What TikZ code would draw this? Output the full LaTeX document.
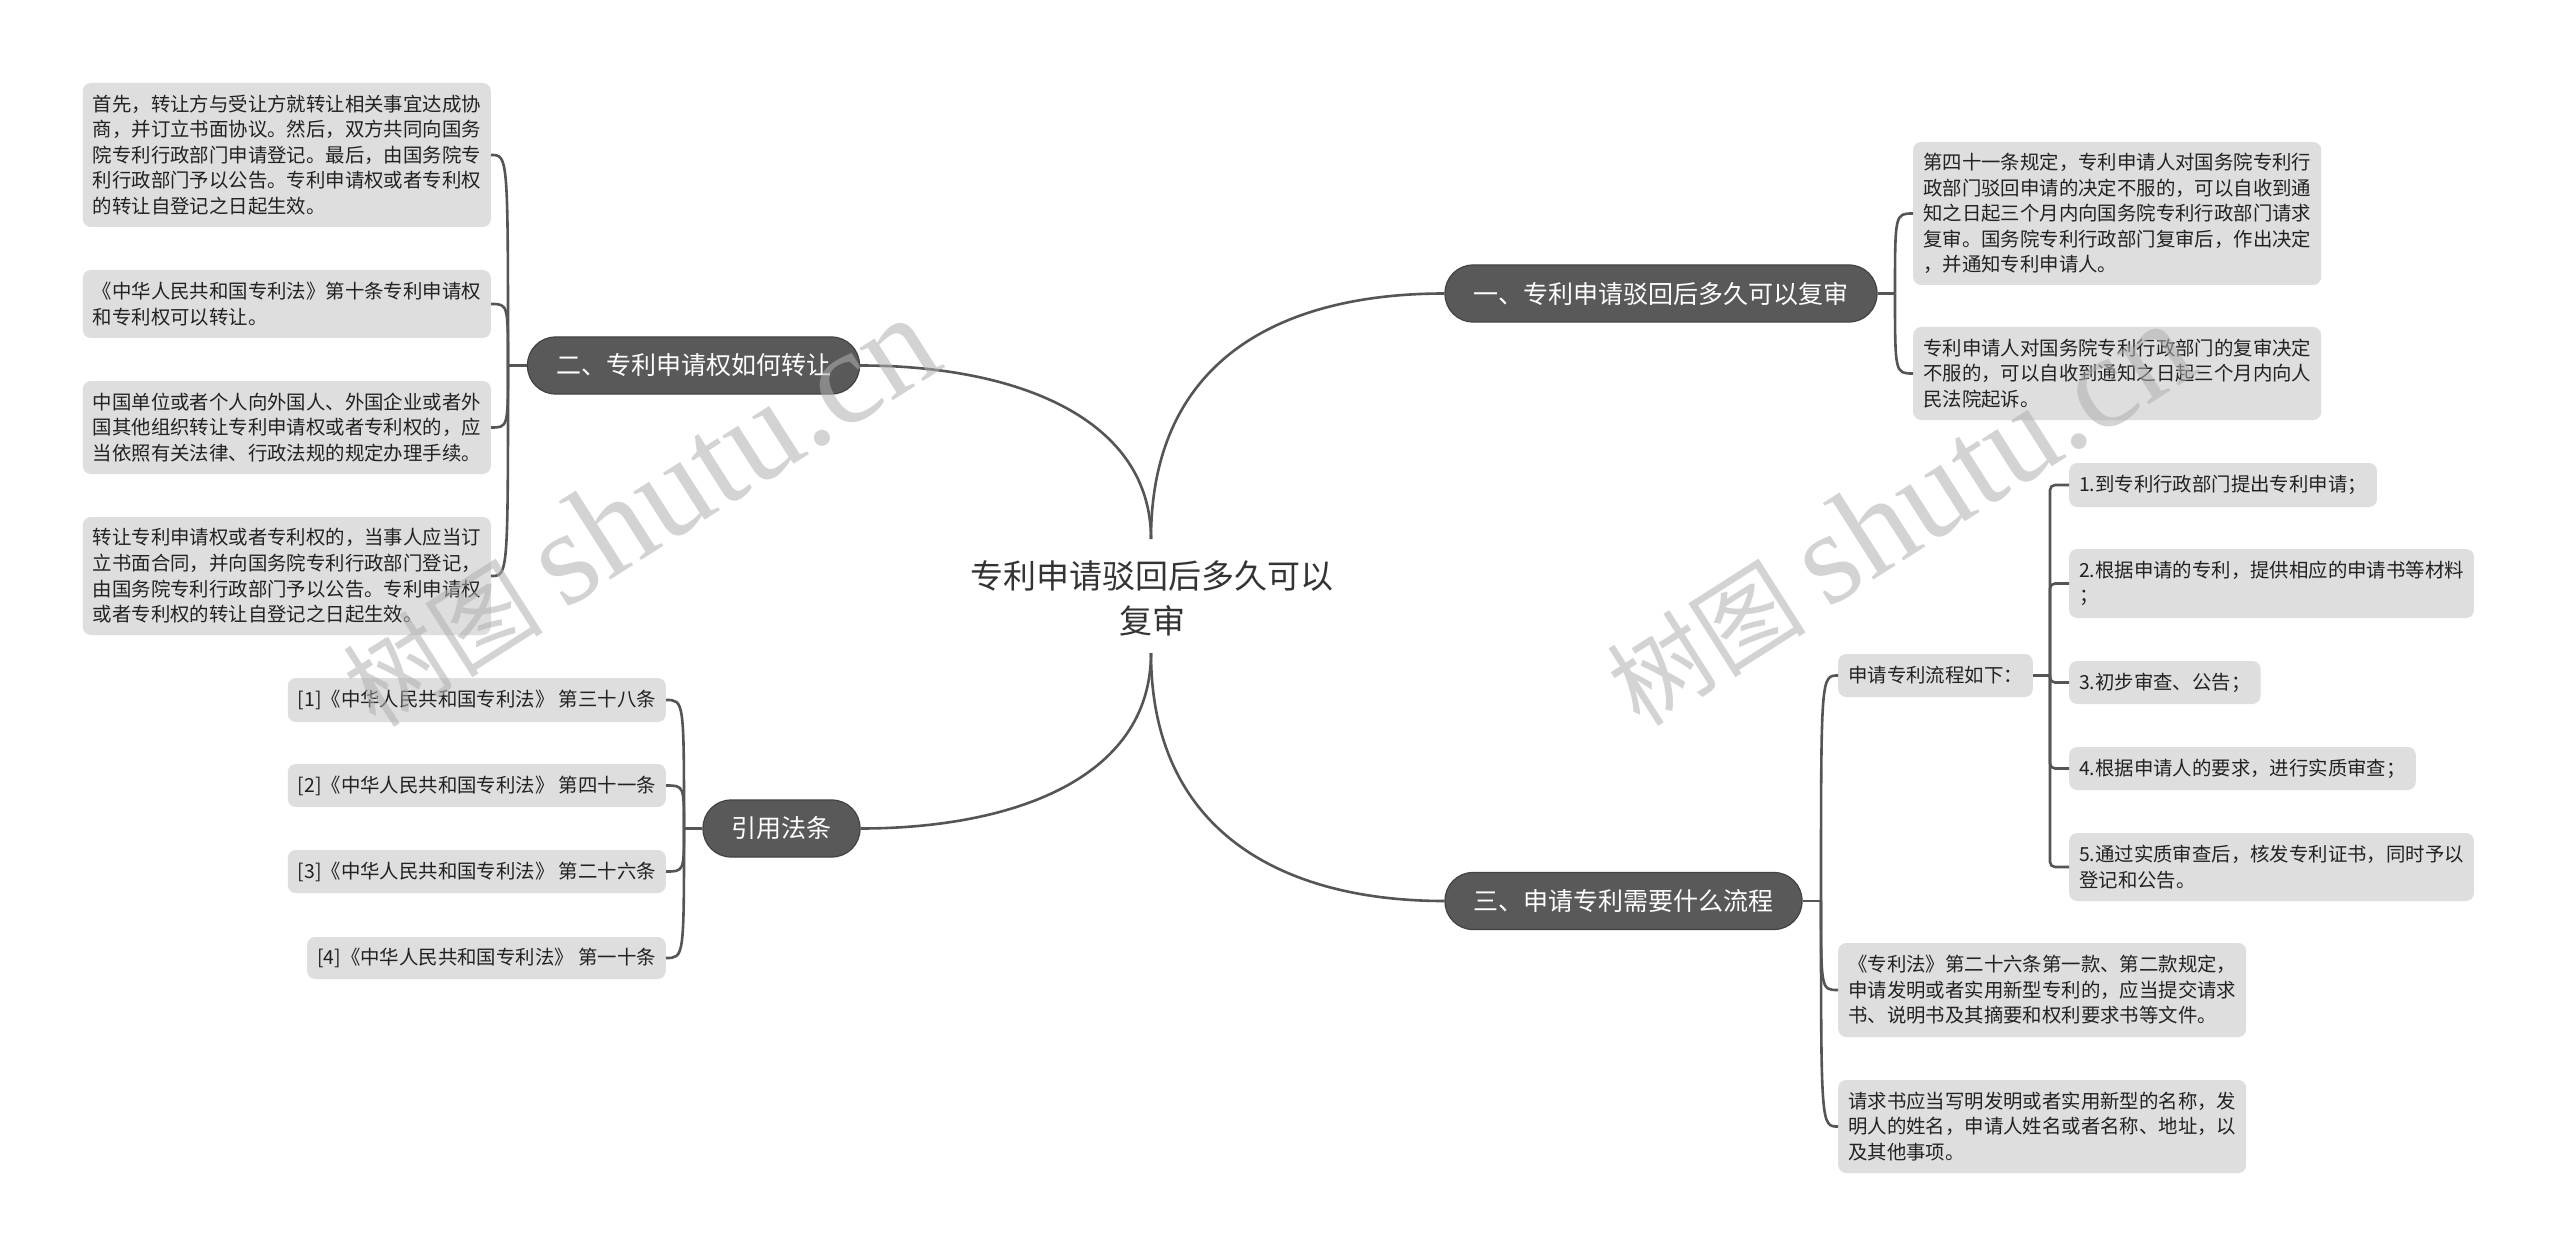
\documentclass[tikz,border=0pt]{standalone}
\usepackage{fontspec}
\setmainfont{Noto Sans CJK SC}
\newfontfamily\wmserif{Liberation Serif}
\usetikzlibrary{calc}
\definecolor{linec}{RGB}{85,85,85}
\definecolor{pillc}{RGB}{89,89,89}
\definecolor{pillb}{RGB}{66,66,66}
\definecolor{boxc}{RGB}{222,222,222}
\definecolor{txtc}{RGB}{34,34,34}
\definecolor{roottc}{RGB}{51,51,51}
\definecolor{wmc}{RGB}{175,175,175}
\begin{document}
\begin{tikzpicture}[x=1pt,y=-1pt,
  pill/.style={fill=pillc,draw=pillb,line width=1.2pt,rounded corners=28pt,minimum height=57pt,inner xsep=28.5pt,inner ysep=0pt,text=white,font=\fontsize{25}{30}\selectfont},
  leaf/.style={fill=boxc,rounded corners=8pt,inner xsep=10pt,inner ysep=0pt,align=left,text=txtc,font=\fontsize{19.4}{25.6}\selectfont},
  conn/.style={draw=linec,line width=2.6pt},
  wm/.style={text=wmc,opacity=0.55,rotate=32.5,anchor=base,inner sep=0pt,font=\fontsize{100}{100}\selectfont}
]
\fill[white] (0,0) rectangle (2560,1257);
\useasboundingbox (0,0) rectangle (2560,1257);

% root
\node[font=\fontsize{33}{45}\selectfont,align=center,text=roottc] (root) at (1152,598) {专利申请驳回后多久可以\\复审};
\coordinate (rt) at (1151,539);
\coordinate (rb) at (1151,653);

% main branches
\node[pill] (b1) at (1661,293.5) {一、专利申请驳回后多久可以复审};
\node[pill] (b2) at (693.5,365.5) {二、专利申请权如何转让};
\node[pill] (b3) at (1623.5,901) {三、申请专利需要什么流程};
\node[pill] (b4) at (781.5,828.5) {引用法条};

\draw[conn] (rt) .. controls (1151,360) and (1280,293.5) .. (b1.west);
\draw[conn] (rt) .. controls (1151,420) and (1020,365.5) .. (b2.east);
\draw[conn] (rb) .. controls (1151,780) and (1010,828.5) .. (b4.east);
\draw[conn] (rb) .. controls (1151,830) and (1280,901) .. (b3.west);

% branch 1 leaves
\node[leaf,anchor=west,minimum height=143pt] (l1a) at (1913,213.5) {第四十一条规定，专利申请人对国务院专利行\\政部门驳回申请的决定不服的，可以自收到通\\知之日起三个月内向国务院专利行政部门请求\\复审。国务院专利行政部门复审后，作出决定\\，并通知专利申请人。};
\node[leaf,anchor=west,minimum height=93pt] (l1b) at (1913,373.5) {专利申请人对国务院专利行政部门的复审决定\\不服的，可以自收到通知之日起三个月内向人\\民法院起诉。};
\coordinate (j1) at (1895,293.5);
\draw[conn] (b1.east) -- (j1);
\draw[conn] (j1) .. controls (j1 |- l1a.west) .. (l1a.west);
\draw[conn] (j1) .. controls (j1 |- l1b.west) .. (l1b.west);

% branch 2 leaves
\node[leaf,anchor=east,minimum height=144pt] (l2a) at (491,155) {首先，转让方与受让方就转让相关事宜达成协\\商，并订立书面协议。然后，双方共同向国务\\院专利行政部门申请登记。最后，由国务院专\\利行政部门予以公告。专利申请权或者专利权\\的转让自登记之日起生效。};
\node[leaf,anchor=east,minimum height=68pt] (l2b) at (491,304) {《中华人民共和国专利法》第十条专利申请权\\和专利权可以转让。};
\node[leaf,anchor=east,minimum height=93pt] (l2c) at (491,427.5) {中国单位或者个人向外国人、外国企业或者外\\国其他组织转让专利申请权或者专利权的，应\\当依照有关法律、行政法规的规定办理手续。};
\node[leaf,anchor=east,minimum height=118pt] (l2d) at (491,576) {转让专利申请权或者专利权的，当事人应当订\\立书面合同，并向国务院专利行政部门登记，\\由国务院专利行政部门予以公告。专利申请权\\或者专利权的转让自登记之日起生效。};
\coordinate (j2) at (508,365.5);
\draw[conn] (b2.west) -- (j2);
\foreach \n in {l2a,l2b,l2c,l2d}
  \draw[conn] (j2) .. controls (j2 |- \n.east) .. (\n.east);

% branch 4 leaves
\node[leaf,anchor=east,minimum height=44pt] (l4a) at (666,700) {[1]《中华人民共和国专利法》 第三十八条};
\node[leaf,anchor=east,minimum height=43pt] (l4b) at (666,785.5) {[2]《中华人民共和国专利法》 第四十一条};
\node[leaf,anchor=east,minimum height=43pt] (l4c) at (666,871.5) {[3]《中华人民共和国专利法》 第二十六条};
\node[leaf,anchor=east,minimum height=42pt] (l4d) at (666,958) {[4]《中华人民共和国专利法》 第一十条};
\coordinate (j4) at (684,828.5);
\draw[conn] (b4.west) -- (j4);
\foreach \n in {l4a,l4b,l4c,l4d}
  \draw[conn] (j4) .. controls (j4 |- \n.east) .. (\n.east);

% branch 3 leaves
\node[leaf,anchor=west,minimum height=43pt] (l3a) at (1838,675.5) {申请专利流程如下：};
\node[leaf,anchor=west,minimum height=94pt] (l3b) at (1838,990) {《专利法》第二十六条第一款、第二款规定，\\申请发明或者实用新型专利的，应当提交请求\\书、说明书及其摘要和权利要求书等文件。};
\node[leaf,anchor=west,minimum height=93pt] (l3c) at (1838,1126.5) {请求书应当写明发明或者实用新型的名称，发\\明人的姓名，申请人姓名或者名称、地址，以\\及其他事项。};
\coordinate (j3) at (1821,901);
\draw[conn] (b3.east) -- (j3);
\foreach \n in {l3a,l3b,l3c}
  \draw[conn] (j3) .. controls (j3 |- \n.west) .. (\n.west);

% process steps
\node[leaf,anchor=west,minimum height=44pt] (s1) at (2069,485) {1.到专利行政部门提出专利申请；};
\node[leaf,anchor=west,minimum height=69pt] (s2) at (2069,583.5) {2.根据申请的专利，提供相应的申请书等材料\\；};
\node[leaf,anchor=west,minimum height=43pt] (s3) at (2069,682.5) {3.初步审查、公告；};
\node[leaf,anchor=west,minimum height=43pt] (s4) at (2069,768.5) {4.根据申请人的要求，进行实质审查；};
\node[leaf,anchor=west,minimum height=68pt] (s5) at (2069,867) {5.通过实质审查后，核发专利证书，同时予以\\登记和公告。};
\coordinate (j5) at (2050,675.5);
\draw[conn] (l3a.east) -- (j5);
\foreach \n in {s1,s2,s3,s4,s5}
  \draw[conn,rounded corners=5pt] (j5) |- (\n.west);

% watermarks
\node[wm] (wm1) at (662,548) {树图 {\wmserif\fontsize{135}{135}\selectfont shutu.cn}};
\node[wm] (wm2) at (1921,550) {树图 {\wmserif\fontsize{132}{132}\selectfont shutu.cn}};
\end{tikzpicture}
\end{document}
